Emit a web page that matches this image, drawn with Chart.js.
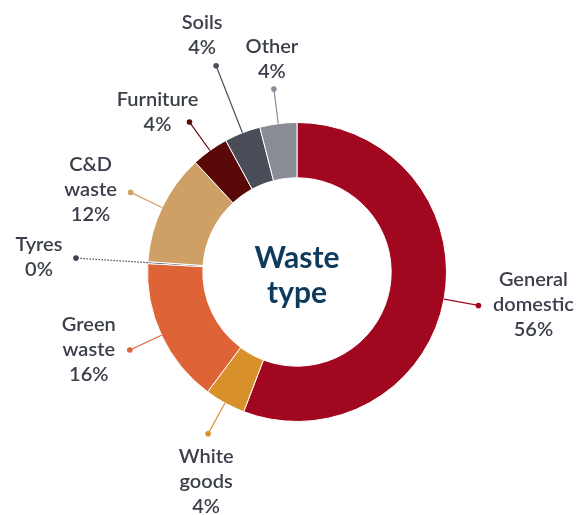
<!DOCTYPE html>
<html>
<head>
<meta charset="utf-8">
<script src="https://cdn.jsdelivr.net/npm/chart.js@4"></script>
<style>
  html, body { margin: 0; padding: 0; background: #fff; }
  canvas { display: block; }
</style>
</head>
<body>
<canvas id="wasteChart" width="579" height="515"></canvas>
<script>
const categories = [
  ["General", "domestic"],
  ["White", "goods"],
  ["Green", "waste"],
  ["Tyres"],
  ["C&D", "waste"],
  ["Furniture"],
  ["Soils"],
  ["Other"]
];
const shares = [55.8, 4.4, 15.7, 0.2, 12.0, 4.0, 3.9, 4.0];
const colors = ["#A1071F", "#D8902A", "#DE6437", "#3D4350", "#CFA065", "#5A0909", "#4A4D57", "#898C95"];

// leader length and label offset (from the dot) for each slice
const labelLayout = [
  { len: 35, dx: 55, dy: -26 },
  { len: 35, dx: -2, dy: 23 },
  { len: 35, dx: -41, dy: -25 },
  { len: 72, dx: -37, dy: -14, dotted: true },
  { len: 35, dx: -40, dy: -28 },
  { len: 35, dx: -32, dy: -23 },
  { len: 72, dx: -14, dy: -43 },
  { len: 35, dx: -2, dy: -42 }
];

const calloutPlugin = {
  id: "callouts",
  afterDatasetsDraw(chart) {
    const ctx = chart.ctx;
    const meta = chart.getDatasetMeta(0);
    meta.data.forEach((arc, i) => {
      const p = arc.getProps(["x", "y", "startAngle", "endAngle", "outerRadius"], true);
      const mid = (p.startAngle + p.endAngle) / 2;
      const lay = labelLayout[i];
      const x0 = p.x + Math.cos(mid) * p.outerRadius;
      const y0 = p.y + Math.sin(mid) * p.outerRadius;
      const x1 = p.x + Math.cos(mid) * (p.outerRadius + lay.len);
      const y1 = p.y + Math.sin(mid) * (p.outerRadius + lay.len);
      ctx.save();
      ctx.strokeStyle = colors[i];
      ctx.lineWidth = 1.2;
      if (lay.dotted) ctx.setLineDash([1.5, 1.5]);
      ctx.beginPath();
      ctx.moveTo(x0, y0);
      ctx.lineTo(x1, y1);
      ctx.stroke();
      ctx.setLineDash([]);
      ctx.fillStyle = colors[i];
      ctx.beginPath();
      ctx.arc(x1, y1, 2.8, 0, Math.PI * 2);
      ctx.fill();

      const lines = categories[i].concat([Math.round(shares[i]) + "%"]);
      ctx.fillStyle = "#3B3F4A";
      ctx.font = "600 20px Lato";
      ctx.textAlign = "center";
      ctx.textBaseline = "middle";
      lines.forEach((t, k) => {
        ctx.fillText(t, x1 + lay.dx, y1 + lay.dy + k * 25);
      });
      ctx.restore();
    });

    // centre title
    const c = meta.data[0];
    ctx.save();
    ctx.fillStyle = "#0E3A5C";
    ctx.font = "bold 30px Lato";
    ctx.textAlign = "center";
    ctx.textBaseline = "middle";
    ctx.fillText("Waste", c.x, c.y - 14);
    ctx.fillText("type", c.x, c.y + 21);
    ctx.restore();
  }
};

new Chart(document.getElementById("wasteChart"), {
  type: "doughnut",
  data: {
    labels: categories.map((c) => c.join(" ")),
    datasets: [
      {
        data: shares,
        backgroundColor: colors,
        borderColor: "#ffffff",
        borderWidth: 1
      }
    ]
  },
  options: {
    responsive: false,
    animation: false,
    cutout: "63%",
    layout: {
      padding: { left: 147, right: 132, top: 122, bottom: 93 }
    },
    plugins: {
      legend: { display: false },
      tooltip: { enabled: false }
    }
  },
  plugins: [calloutPlugin]
});
</script>
</body>
</html>
